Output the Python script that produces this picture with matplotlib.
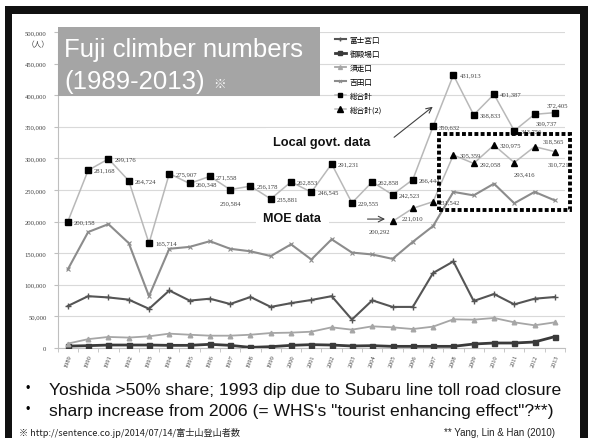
import matplotlib
matplotlib.use('Agg')
import matplotlib.pyplot as plt
from matplotlib.patches import Rectangle

W, H = 591, 439

years = list(range(1989, 2014))
fujinomiya = [66500, 82000, 80000, 76500, 62000, 91000, 75000, 78000, 69600, 80700,
              65000, 71000, 76000, 82000, 45000, 75400, 65000, 65000, 118700, 137000,
              74400, 85400, 69000, 78000, 80700]
gotemba = [3000, 3700, 4700, 4700, 4700, 4200, 4200, 5800, 4200, 1000,
           2100, 4200, 5300, 4700, 3200, 3700, 2600, 2600, 2600, 2600,
           6300, 7900, 7900, 9500, 18000]
subashiri = [7000, 14000, 17500, 16500, 18500, 22700, 21000, 19500, 19500, 21000,
             23700, 24300, 25800, 32700, 29000, 34300, 32700, 30000, 33800, 45400,
             44800, 47500, 40600, 35900, 40600]
yoshida = [124500, 183500, 196000, 166000, 82000, 157000, 160000, 169000, 157000, 153000,
           145500, 164000, 140000, 172000, 151000, 148000, 141000, 168000, 193000, 247000,
           241500, 260000, 229000, 247000, 233500]
total = [200158, 281168, 299176, 264724, 165714, 275907, 260348, 271558, 250584, 256178,
         235881, 262853, 246545, 291231, 229555, 262858, 242523, 266444, 350632, 431913,
         368833, 401387, 343756, 369737, 372405]

moe_years = list(range(2005, 2014))
moe_total = [200292, 221010, 231542, 305359, 292058, 320975, 293416, 318565, 310721]

legend_names = ['富士宮口', '御殿場口', '須走口', '吉田口', '総合計', '総合計(2)']

# label offsets (points) for the value labels that don't sit to the right
total_lab = {1997: (0, -9.4, 'center'), 2012: (0.7, -5.8, 'left'), 2013: (2.2, 5.8, 'center')}
moe_lab = {2005: (-9.1, -6.5, 'center'), 2006: (0, -7, 'center'), 2011: (7.2, -8.4, 'center'),
           2012: (5.8, 4.3, 'left'), 2013: (2.5, -8.6, 'center')}


def px(x, y):
    return x / W, 1 - y / H


fig = plt.figure(figsize=(W / 100, H / 100), dpi=100)
fig.patch.set_facecolor('white')
ax = fig.add_axes([57.7 / W, 90 / H, 507.3 / W, 316 / H])

ax.plot(years, fujinomiya, color='#555555', lw=1.5, marker='+', ms=4, mew=1,
        label=legend_names[0], zorder=3)
ax.plot(years, gotemba, color='#3a3a3a', lw=2, marker='s', ms=3.6,
        label=legend_names[1], zorder=3)
ax.plot(years, subashiri, color='#a6a6a6', lw=1.3, marker='^', ms=3.3,
        label=legend_names[2], zorder=3)
ax.plot(years, yoshida, color='#8c8c8c', lw=1.5, marker='x', ms=2.5, mew=0.8,
        label=legend_names[3], zorder=3)
ax.plot(years, total, color='#b8b8b8', lw=1.1, marker='s', ms=4,
        mfc='black', mec='black', label=legend_names[4], zorder=4)
ax.plot(moe_years, moe_total, color='#b8b8b8', lw=1.1, marker='^', ms=4.6,
        mfc='black', mec='black', label=legend_names[5], zorder=4)

lab_font = dict(family='Liberation Serif', fontsize=4.8, color='#404040', zorder=5)
for x, v in zip(years, total):
    dx, dy, ha = total_lab.get(x, (4.3, 0, 'left'))
    ax.annotate(f'{v:,}', (x, v), xytext=(dx, dy), textcoords='offset points',
                ha=ha, va='center', **lab_font)
for x, v in zip(moe_years, moe_total):
    dx, dy, ha = moe_lab.get(x, (4.3, 0, 'left'))
    ax.annotate(f'{v:,}', (x, v), xytext=(dx, dy), textcoords='offset points',
                ha=ha, va='center', **lab_font)

ax.set_xlim(1988.5, 2013.5)
ax.set_ylim(0, 500000)
ax.set_yticks(range(0, 500001, 50000))
ax.set_yticklabels([f'{t:,}' for t in range(0, 500001, 50000)],
                   family='Liberation Serif', fontsize=4.8, color='#404040')
ax.set_xticks(years)
ax.set_xticklabels([str(y) for y in years], rotation=70, ha='right',
                   rotation_mode='anchor', family='Liberation Serif',
                   fontsize=4.6, color='#404040')
ax.set_xticks([y + 0.5 for y in range(1988, 2014)], minor=True)
ax.tick_params(axis='x', which='major', length=0, pad=4)
ax.tick_params(axis='x', which='minor', length=3, color='#bfbfbf')
ax.tick_params(axis='y', length=3, color='#bfbfbf', pad=5)
ax.yaxis.grid(True, color='#d9d9d9', lw=0.8)
ax.set_axisbelow(True)
for s in ['top', 'right']:
    ax.spines[s].set_visible(False)
for s in ['left', 'bottom']:
    ax.spines[s].set_color('#bfbfbf')
    ax.spines[s].set_linewidth(0.8)

ax.legend(loc='upper left', bbox_to_anchor=px(335, 37), bbox_transform=fig.transFigure,
          frameon=False, borderpad=0, borderaxespad=0, handlelength=1.4,
          handletextpad=0.5, labelspacing=0.78, markerscale=0.85,
          prop={'family': 'Noto Sans CJK JP', 'size': 5.5})

# annotations inside the plot
ax.text(2001.53, 326000, 'Local govt. data', ha='center', va='center',
        fontsize=9.2, fontweight='bold', family='Liberation Sans', color='#111111',
        bbox=dict(boxstyle='square,pad=0.6', fc='white', ec='none'), zorder=5)
ax.annotate('', xy=(2007.09, 384500), xytext=(2004.97, 330700),
            arrowprops=dict(arrowstyle='->', color='#404040', lw=0.8), zorder=5)
ax.text(2000.05, 206000, 'MOE data', ha='center', va='center',
        fontsize=9, fontweight='bold', family='Liberation Sans', color='#111111',
        bbox=dict(boxstyle='square,pad=0.6', fc='white', ec='none'), zorder=5)
ax.annotate('', xy=(2004.77, 204000), xytext=(2003.63, 204000),
            arrowprops=dict(arrowstyle='->', color='#404040', lw=0.8), zorder=5)
ax.add_patch(Rectangle((2007.28, 218400), 6.46, 120200, fill=False, ec='black',
                       lw=2.8, ls=(0, (1, 0.6)), clip_on=False, zorder=6))

# title block
x0, y0 = px(58, 97)
fig.add_artist(Rectangle((x0, y0), 262 / W, 69 / H, transform=fig.transFigure,
                         fc='#a5a5a5', ec='none'))
fig.text(*px(64, 57), 'Fuji climber numbers', color='white', fontsize=18.5,
         family='Liberation Sans', va='baseline')
fig.text(*px(64, 89), '(1989-2013)', color='white', fontsize=18.5,
         family='Liberation Sans', va='baseline')
fig.text(*px(213, 88), '※', color='white', fontsize=9,
         family='Noto Sans CJK JP', va='baseline')
fig.text(*px(50, 45), '（人）', fontsize=5.5, family='Noto Sans CJK JP',
         ha='right', va='center', color='#404040')

# bullet notes
fig.text(*px(26, 392), '•', fontsize=9, family='Liberation Sans', va='baseline')
fig.text(*px(49, 395), 'Yoshida >50% share; 1993 dip due to Subaru line toll road closure',
         fontsize=12.6, family='Liberation Sans', va='baseline', color='#111111')
fig.text(*px(26, 413), '•', fontsize=9, family='Liberation Sans', va='baseline')
fig.text(*px(49, 416), 'sharp increase from 2006 (= WHS\'s "tourist enhancing effect"?**)',
         fontsize=12.6, family='Liberation Sans', va='baseline', color='#111111')
fig.text(*px(19, 433), '※ http://sentence.co.jp/2014/07/14/富士山登山者数', fontsize=6.6,
         family=['Noto Sans CJK JP', 'DejaVu Sans'], va='center', color='#222222')
fig.text(*px(555, 433), '** Yang, Lin & Han (2010)', fontsize=7, ha='right',
         family='Liberation Sans', va='center', color='#222222')

# black slide frame
for (x, y, w, h) in [(5, 7, 583, 8), (5, 7, 7, 432), (580, 7, 8, 432)]:
    fig.add_artist(Rectangle(px(x, y + h), w / W, h / H, transform=fig.transFigure,
                             fc='#111111', ec='none'))

fig.savefig('out.png', dpi=100)
